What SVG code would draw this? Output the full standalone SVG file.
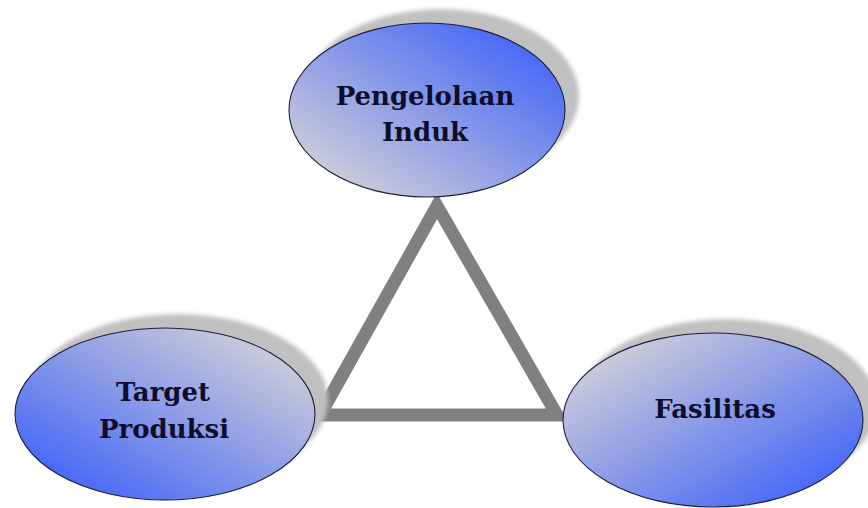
<svg xmlns="http://www.w3.org/2000/svg" width="868" height="508" viewBox="0 0 868 508">
<defs>
<style>
.shadow{fill:#c0c0c0;filter:url(#blur)}
.node{stroke:#1c1c3c;stroke-width:1.1}
.label{font-family:"DejaVu Serif","Liberation Serif",serif;font-weight:bold;font-size:26px;fill:#0e0e2c;text-anchor:middle}
.edge{fill:none;stroke:#808080;stroke-width:13;stroke-linejoin:miter}
</style>
<filter id="blur" x="-10%" y="-10%" width="120%" height="120%"><feGaussianBlur stdDeviation="2"/></filter>
<linearGradient id="gTop" x1="0" y1="1" x2="1" y2="0">
<stop offset="0.15" stop-color="#c8c9da"/>
<stop offset="0.85" stop-color="#4b6bf5"/>
</linearGradient>
<linearGradient id="gLeft" x1="0" y1="1" x2="1" y2="0">
<stop offset="0.15" stop-color="#4b6bf5"/>
<stop offset="0.85" stop-color="#c8c9da"/>
</linearGradient>
<linearGradient id="gRight" x1="0" y1="0" x2="1" y2="1">
<stop offset="0.15" stop-color="#c8c9da"/>
<stop offset="0.85" stop-color="#4b6bf5"/>
</linearGradient>
</defs>
<rect width="868" height="508" fill="#ffffff"/>
<g id="connectors">
<polygon class="edge" points="437,206 320,415 557,415"/>
</g>
<g id="node-pengelolaan">
<ellipse class="shadow" cx="441" cy="96" rx="138" ry="87"/>
<ellipse class="node" cx="427" cy="110" rx="138" ry="87" fill="url(#gTop)"/>
<text class="label" x="425" y="105">Pengelolaan</text>
<text class="label" x="425" y="141">Induk</text>
</g>
<g id="node-target">
<ellipse class="shadow" cx="178" cy="400" rx="150" ry="86"/>
<ellipse class="node" cx="165" cy="414" rx="150" ry="86" fill="url(#gLeft)"/>
<text class="label" x="163" y="401">Target</text>
<text class="label" x="164" y="438">Produksi</text>
</g>
<g id="node-fasilitas">
<ellipse class="shadow" cx="727" cy="406" rx="150" ry="87"/>
<ellipse class="node" cx="713" cy="420" rx="150" ry="87" fill="url(#gRight)"/>
<text class="label" x="715" y="418">Fasilitas</text>
</g>
</svg>
